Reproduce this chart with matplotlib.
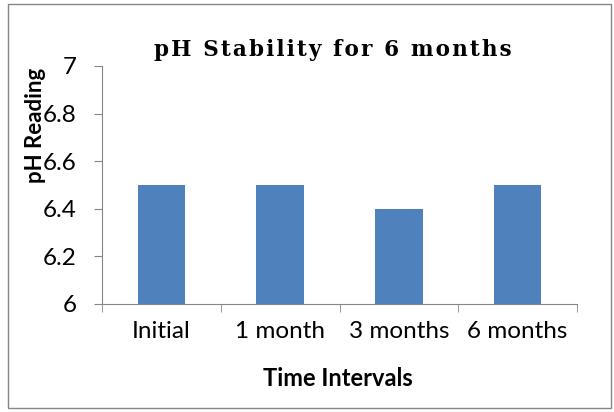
import matplotlib.pyplot as plt
from matplotlib.patches import Rectangle

categories = ["Initial", "1 month", "3 months", "6 months"]
ph_values = [6.5, 6.5, 6.4, 6.5]
y_ticks = [6, 6.2, 6.4, 6.6, 6.8, 7]
y_tick_labels = ["6", "6.2", "6.4", "6.6", "6.8", "7"]
title = "pH Stability for 6 months"

W, H = 614, 412
fig = plt.figure(figsize=(W / 100, H / 100), dpi=100)
ax = fig.add_axes([102 / W, 1 - 304 / H, 475 / W, 238 / H])

x = list(range(len(categories)))
ax.bar(x, ph_values, width=0.4, color="#4F81BD")

ax.set_xlim(-0.5, len(categories) - 0.5)
ax.set_ylim(6, 7)
ax.set_yticks(y_ticks)
ax.set_yticklabels(y_tick_labels)
ax.set_xticks(x)
ax.set_xticklabels(categories)
# x ticks sit between the categories like Excel
ax.set_xticks([i - 0.5 for i in range(len(categories) + 1)], minor=True)
ax.tick_params(axis="x", which="major", length=0, pad=12)
ax.tick_params(axis="x", which="minor", length=6, color="#868686")
ax.tick_params(axis="y", length=6, color="#868686", pad=12)

for lab in ax.get_xticklabels() + ax.get_yticklabels():
    lab.set_fontfamily("Lato")
    lab.set_fontsize(17.5)

for s in ["top", "right"]:
    ax.spines[s].set_visible(False)
for s in ["left", "bottom"]:
    ax.spines[s].set_color("#868686")

# spaced-out title, like the original
fig.text(333 / W, 1 - 50 / H, "\u200a".join(title), ha="center", va="center",
         fontfamily="DejaVu Serif", fontweight="bold", fontsize=15.5)
fig.text(338 / W, 1 - 378 / H, "Time Intervals", ha="center", va="center",
         fontfamily="Lato", fontweight="bold", fontsize=17)
fig.text(35 / W, 1 - 125 / H, "pH Reading", ha="center", va="center", rotation=90,
         fontfamily="Lato", fontweight="bold", fontsize=16)

fig.patches.append(Rectangle((8 / W, 4 / H), 603 / W, 404 / H, transform=fig.transFigure,
                             fill=False, edgecolor="#868686", linewidth=1))

fig.savefig("out.png", dpi=100)
